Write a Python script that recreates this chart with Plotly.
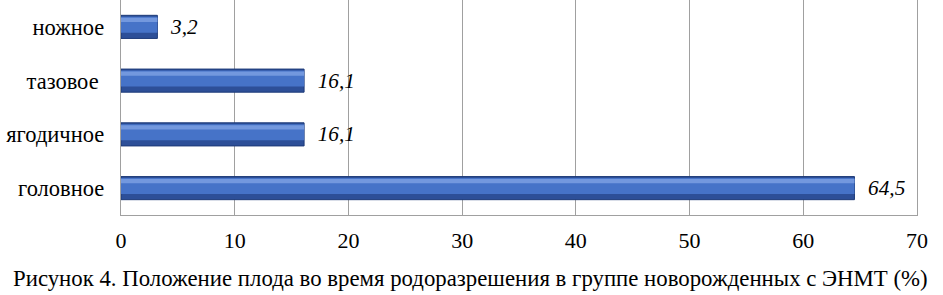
import plotly.graph_objects as go

categories = ["головное", "ягодичное", "тазовое ", "ножное"]
values = [64.5, 16.1, 16.1, 3.2]
x_ticks = [0, 10, 20, 30, 40, 50, 60, 70]
caption = "Рисунок 4. Положение плода во время родоразрешения в группе новорожденных с ЭНМТ (%)"

font_family = "'Liberation Serif', 'DejaVu Serif', serif"

fig = go.Figure()
# dark base of bars
fig.add_trace(go.Bar(
    y=categories, x=values, orientation="h", width=0.43, offset=-0.215,
    marker=dict(color="#2d4f98", line=dict(color="#1d3a78", width=1)),
    text=[f"{v:.1f}".replace(".", ",") for v in values],
    textposition="outside", cliponaxis=False,
    textfont=dict(family=font_family, size=23, color="#000000"),
    texttemplate="  <i>%{text}</i>",
    hoverinfo="skip", showlegend=False,
))
# main body
fig.add_trace(go.Bar(
    y=categories, x=values, orientation="h", width=0.30, offset=-0.11,
    marker=dict(color="#4673c8", line=dict(width=0)),
    hoverinfo="skip", showlegend=False,
))
# highlight
fig.add_trace(go.Bar(
    y=categories, x=values, orientation="h", width=0.08, offset=0.09,
    marker=dict(color="#7398de", line=dict(width=0)),
    hoverinfo="skip", showlegend=False,
))

fig.update_layout(
    barmode="overlay",
    width=943, height=295,
    margin=dict(l=121, r=26, t=0, b=80, autoexpand=False),
    paper_bgcolor="white", plot_bgcolor="white",
    font=dict(family=font_family, size=22, color="#000000"),
    xaxis=dict(
        range=[0, 70], tickvals=x_ticks, ticktext=[str(t) for t in x_ticks],
        showgrid=True, gridcolor="#a0a0a0", gridwidth=1,
        zeroline=False, showline=True, linecolor="#a0a0a0", mirror=True,
        ticks="", ticklen=0, tickfont=dict(size=22, family=font_family),
        ticklabelstandoff=6, automargin=False,
    ),
    yaxis=dict(
        showgrid=False, zeroline=False, showline=True, linecolor="#a0a0a0",
        mirror=True, ticks="", ticksuffix="  ", tickfont=dict(size=22.5, family=font_family),
        range=[-0.5, 3.5], automargin=False,
    ),
)
plot_h = 295 - 0 - 80
plot_w = 943 - 121 - 26
fig.add_annotation(
    text=caption, xref="paper", yref="paper",
    x=(470 - 121) / plot_w, y=(295 - 80 - 278) / plot_h,
    xanchor="center", yanchor="middle", showarrow=False,
    font=dict(size=22.8, family=font_family),
)

fig.write_html(
    "out.html",
    config={"displayModeBar": False},
    post_script="document.body.style.margin='0';document.body.style.overflow='hidden';",
)
